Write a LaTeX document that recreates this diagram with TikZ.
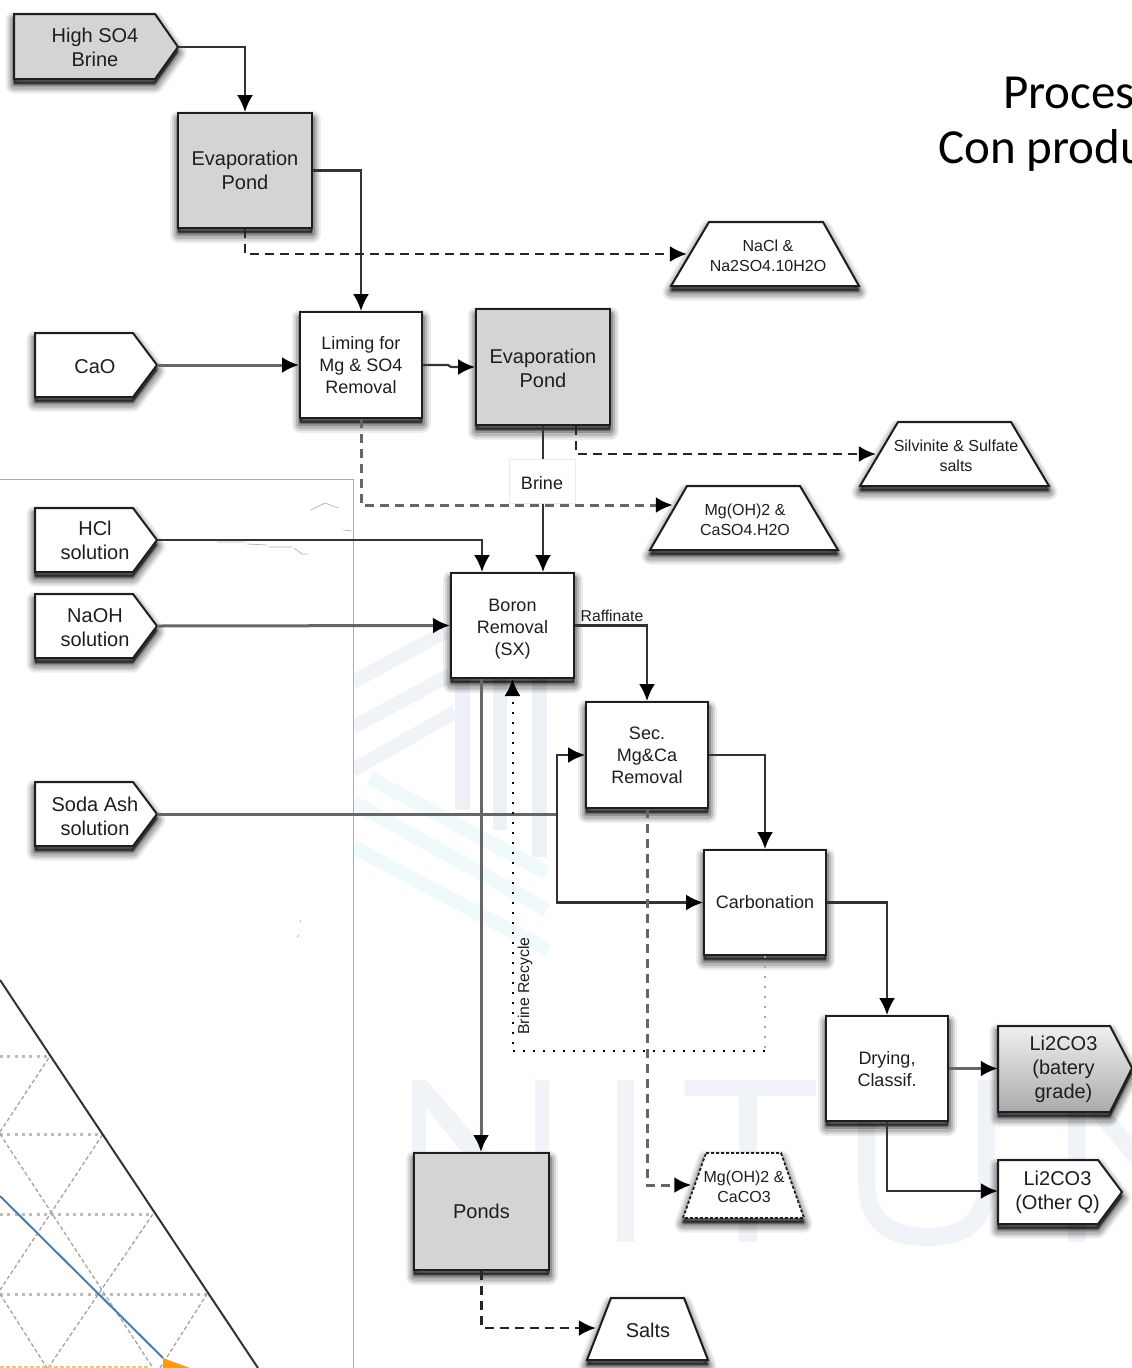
\documentclass[tikz,border=0pt]{standalone}
\usepackage{fontspec}
\setmainfont{Liberation Sans}
\newfontfamily\titlefont{Carlito}
\usetikzlibrary{arrows.meta}
\definecolor{ink}{HTML}{1E1E1E}
\definecolor{wire}{HTML}{333333}
\definecolor{softwire}{HTML}{666666}
\definecolor{pond}{HTML}{D4D4D4}
\definecolor{wmA}{HTML}{F0F4F9}
\definecolor{wmB}{HTML}{F0F9FB}
\definecolor{wmC}{HTML}{EDF1F7}
\definecolor{framegray}{HTML}{ABABAB}
\definecolor{plotblue}{HTML}{4A7CB0}
\definecolor{plotorange}{HTML}{FF9A0A}
\newcommand\fsz[2]{\fontsize{#1}{#2}\selectfont}
\newcommand\dn[1]{\rule{0pt}{#1pt}}
\tikzset{
  softshadow/.style={
    preaction={draw=black,fill=black,opacity=.07,line width=17pt,line join=round,transform canvas={yshift=-6pt}},
    preaction={draw=black,fill=black,opacity=.10,line width=13pt,line join=round,transform canvas={yshift=-6pt}},
    preaction={draw=black,fill=black,opacity=.14,line width=9pt,line join=round,transform canvas={yshift=-6pt}},
    preaction={draw=black,fill=black,opacity=.20,line width=5pt,line join=round,transform canvas={yshift=-5pt}},
    preaction={draw=black,fill=black,opacity=.28,line width=2pt,line join=round,transform canvas={yshift=-4pt}}},
  outline/.style={draw=ink,line width=2pt,line join=miter},
  whitebox/.style={rectangle,softshadow,outline,fill=white,inner sep=0pt,align=center,text=ink},
  graybox/.style={whitebox,fill=pond},
  lbl/.style={rectangle,inner sep=0pt,align=center,text=ink},
  big/.style={font=\fsz{20}{24}},
  mid/.style={font=\fsz{18}{22}},
  small/.style={font=\fsz{16}{20}},
  headtip/.style={-{Latex[length=17pt,width=16pt,color=black,fill=black]}},
  flow/.style={draw=wire,line width=2.2pt,headtip},
  softflow/.style={draw=softwire,line width=3pt,headtip},
  plain/.style={draw=softwire,line width=3pt},
  dashflow/.style={draw=black!85,line width=2.2pt,dash pattern=on 9pt off 6pt,headtip,shorten >=3pt},
  softdash/.style={dashflow,draw=softwire,line width=3pt},
  dotflow/.style={draw=black,line width=2pt,dash pattern=on 2pt off 8pt,headtip},
  griddot/.style={draw=black!26,line width=3pt,dash pattern=on 3pt off 4.3pt},
  griddash/.style={draw=black!36,line width=1.3pt,dash pattern=on 4pt off 2.5pt},
  crumb/.style={draw=black!30,line width=.7pt}
}
% polygon with soft shadow: #1 path, #2 style
\newcommand\poly[2]{\path[softshadow,#2] #1;}
\begin{document}
\begin{tikzpicture}[x=1pt,y=-1pt]
\useasboundingbox (0,0) rectangle (1132,1368);
% ---- watermark
\begin{scope}
  \clip (353,600) rectangle (552,965);
  \foreach \a/\b/\c/\d in {353/682/445/632,353/727/450/675,353/770/455/712}
    \draw[wmA,line width=14pt] (\a,\b) -- (\c,\d);
  \foreach \a/\b/\c/\d in {370/778/547/873,353/802/547/910,353/847/548/950}
    \draw[wmB,line width=14pt] (\a,\b) -- (\c,\d);
  \fill[wmC] (455,678) rectangle (470,810);
  \fill[wmC] (493,678) rectangle (507,830);
  \fill[wmC] (532,678) rectangle (547,857);
\end{scope}
\fill[wmA] (412,1080) -- (426,1080) -- (549,1220) -- (549,1242) -- (536,1242) -- (426,1108) -- (426,1242) -- (412,1242) -- cycle;
\fill[wmA] (535,1080) rectangle (549,1242);
\fill[wmA] (617,1080) rectangle (634,1242);
\fill[wmA] (685,1080) rectangle (816,1096);
\fill[wmA] (739,1080) rectangle (757,1242);
\fill[wmA] (858,1080) -- (875,1080) -- (875,1180) .. controls (875,1215) and (895,1228) .. (927,1228) .. controls (960,1228) and (978,1215) .. (978,1180) -- (978,1080) -- (995,1080) -- (995,1180) .. controls (995,1228) and (970,1246) .. (927,1246) .. controls (884,1246) and (858,1228) .. (858,1180) -- cycle;
\fill[wmA] (1068,1080) -- (1084,1080) -- (1132,1138) -- (1132,1165) -- (1085,1108) -- (1085,1242) -- (1068,1242) -- cycle;
% ---- slide frame and plot
\draw[framegray,line width=1pt] (0,479) -- (353,479) -- (353,1368);
\begin{scope}
  \clip (0,900) rectangle (353,1368);
  \foreach \y/\x in {1056/50,1134/103,1214/153,1294/207}
    \draw[griddot] (0,\y) -- (\x,\y);
  \draw[griddash] (0,1132) -- (50,1056);
  \draw[griddash] (0,1290) -- (103,1134);
  \draw[griddash] (48,1368) -- (153,1214);
  \draw[griddash] (160,1368) -- (207,1294);
  \draw[griddash] (0,1134) -- (153,1368);
  \draw[griddash] (0,1294) -- (47,1368);
  \draw[draw=plotblue,line width=2pt] (0,1196) -- (163,1358);
  \draw[draw=plotorange!60,line width=1.6pt,dash pattern=on 4pt off 2pt] (0,1367) -- (150,1367);
  \fill[plotorange] (163,1358) -- (190,1368) -- (163,1368) -- cycle;
  \draw[draw=black!80,line width=2pt] (0,980) -- (258,1368);
\end{scope}
\draw[crumb] (217,542) -- (245,542) (247,544) -- (267,545) (268,547) -- (292,547) (294,548) -- (302,554) -- (308,554);
\draw[crumb] (311,510) -- (325,503) -- (338,508) (343,530) -- (352,531) (297,937) -- (299,935) (300,922) -- (301,920);
% ---- source and product shapes
\poly{(14,14) -- (155,14) -- (178,47) -- (155,79) -- (14,79) -- cycle}{outline,fill=pond}
\node[lbl,big,minimum width=166pt,minimum height=65pt] (highso) at (95,47) {High SO4\\Brine};
\poly{(35,333) -- (133,333) -- (157,365) -- (133,397) -- (35,397) -- cycle}{outline,fill=white}
\node[lbl,big,minimum width=124pt,minimum height=64pt] (cao) at (95,365) {\dn{17.6}CaO};
\poly{(35,508) -- (133,508) -- (157,540) -- (133,572) -- (35,572) -- cycle}{outline,fill=white}
\node[lbl,big,minimum width=124pt,minimum height=64pt] (hcl) at (95,540) {HCl\\solution};
\poly{(35,594) -- (133,594) -- (157,626) -- (133,658) -- (35,658) -- cycle}{outline,fill=white}
\node[lbl,big,minimum width=124pt,minimum height=64pt] (naoh) at (95,626) {\dn{16.6}NaOH\\solution};
\poly{(35,782) -- (133,782) -- (157,814) -- (133,846) -- (35,846) -- cycle}{outline,fill=white}
\node[lbl,big,minimum width=124pt,minimum height=64pt] (soda) at (95,814) {\dn{18.6}Soda Ash\\solution};
\poly{(998,1026) -- (1110,1026) -- (1132,1068) -- (1110,1112) -- (998,1112) -- cycle}{outline,top color=black!6,bottom color=black!33}
\node[lbl,big,minimum width=131pt,minimum height=86pt] (liA) at (1063.5,1068) {\dn{16.6}Li2CO3\\(batery\\grade)};
\poly{(998,1160) -- (1098,1160) -- (1122,1192) -- (1098,1224) -- (998,1224) -- cycle}{outline,fill=white}
\node[lbl,big,minimum width=119pt,minimum height=64pt] (liB) at (1057.5,1191) {\dn{16.6}Li2CO3\\(Other Q)};
\poly{(709,222) -- (823,222) -- (859,286) -- (671,286) -- cycle}{outline,fill=white}
\node[lbl,small,minimum width=156pt,minimum height=40pt] (nacl) at (768,254) {\dn{15.7}NaCl \&\\Na2SO4.10H2O};
\poly{(898,422) -- (1011,422) -- (1049,486) -- (860,486) -- cycle}{outline,fill=white}
\node[lbl,small,minimum width=154pt,minimum height=40pt] (silv) at (956,454) {\dn{15.7}Silvinite \& Sulfate\\salts};
\poly{(687,486) -- (800,486) -- (838,550) -- (650,550) -- cycle}{outline,fill=white}
\node[lbl,small,minimum width=153pt,minimum height=40pt] (mgca) at (745,518) {\dn{15.7}Mg(OH)2 \&\\CaSO4.H2O};
\poly{(706,1153) -- (781,1153) -- (804,1218) -- (683,1218) -- cycle}{draw=ink,line width=1.8pt,dash pattern=on 3pt off 2pt,fill=white}
\node[lbl,small,minimum width=99pt,minimum height=40pt] (mgco) at (744,1185) {\dn{14.7}Mg(OH)2 \&\\CaCO3};
\poly{(611,1298) -- (684,1298) -- (708,1360) -- (587,1360) -- cycle}{outline,fill=white}
\node[lbl,big,minimum width=98pt,minimum height=30pt] (salts) at (648,1328) {\dn{18.6}Salts};
% ---- process boxes
\node[graybox,big,minimum width=134pt,minimum height=115pt] (evapA) at (245,170.5) {Evaporation\\Pond};
\node[whitebox,mid,minimum width=122pt,minimum height=106pt] (liming) at (361,365) {Liming for\\Mg \& SO4\\Removal};
\node[graybox,big,minimum width=134pt,minimum height=116pt] (evapB) at (543,367) {\dn{16.6}Evaporation\\Pond};
\node[whitebox,mid,minimum width=123pt,minimum height=105pt] (boron) at (512.5,625.5) {\dn{19.1}Boron\\Removal\\(SX)};
\node[whitebox,mid,minimum width=122pt,minimum height=106pt] (sec) at (647,755) {Sec.\\Mg\&Ca\\Removal};
\node[whitebox,mid,minimum width=122pt,minimum height=105pt] (carb) at (765,902.5) {Carbonation};
\node[whitebox,mid,minimum width=122pt,minimum height=105pt] (dry) at (887,1068.5) {\dn{15.1}Drying,\\Classif.};
\node[graybox,big,minimum width=135pt,minimum height=117pt] (ponds) at (481.5,1211.5) {Ponds};
% ---- connectors
\draw[flow] (highso.east) -| (evapA.north);
\draw[flow] (evapA.east) -| (liming.north);
\draw[softflow] (cao.east) -- (liming.west);
\draw[flow] (liming.east) -- ++(25,0) -- ++(3,2) -- (evapB.west);
\draw[flow] (evapB.south) -- ([xshift=30.5pt]boron.north);
\draw[flow] (hcl.east) -| ([xshift=-30.5pt]boron.north);
\draw[softflow] (naoh.east) -- (boron.west);
\coordinate (sodajoin) at (557,814);
\draw[plain] (soda.east) -- (sodajoin);
\draw[flow] (sodajoin) |- (sec.west);
\draw[flow] (sodajoin) |- (carb.west);
\draw[flow] (boron.east) -| (sec.north);
\draw[flow] (sec.east) -| (carb.north);
\draw[flow] (carb.east) -| (dry.north);
\draw[softflow] (dry.east) -- (dry.east -| liA.west);
\draw[flow] (dry.south) |- (liB.west);
\draw[softflow] ([xshift=-31.5pt]boron.south) -- ([xshift=-31.5pt]boron.south |- ponds.north);
\draw[dashflow] (evapA.south) |- (nacl.west);
\draw[softdash] (liming.south) |- ([xshift=7.5pt,yshift=13pt]mgca.west);
\draw[dashflow] ([xshift=33pt]evapB.south) |- (silv.west);
\draw[softdash] (sec.south) |- (mgco.west);
\draw[dashflow] (ponds.south) |- (salts.west);
\coordinate (recyclecorner) at (765,1051);
\draw[draw=black!35,line width=2.4pt,dash pattern=on 2.4pt off 7.6pt] (carb.south) -- (recyclecorner);
\draw[dotflow] (recyclecorner) -| (boron.south);
% ---- free labels
\node[rectangle,draw=black!8,line width=.8pt,fill=white,minimum width=66pt,minimum height=44pt,inner sep=0pt,text=ink,font=\fsz{18}{22}] (brine) at (542,481) {\dn{17.1}Brine};
\node[lbl,font=\fsz{15.7}{18}] (raff) at (612,616) {Raffinate};
\node[lbl,font=\fsz{15.8}{18},rotate=90] (recy) at (525,986) {Brine Recycle};
\node[anchor=base west,inner sep=0pt,text=black,font=\titlefont\fsz{49}{56}] (titleA) at (1003,108) {Proces};
\node[anchor=base west,inner sep=0pt,text=black,font=\titlefont\fsz{49}{56}] (titleB) at (938,163) {Con produ};
\end{tikzpicture}
\end{document}
